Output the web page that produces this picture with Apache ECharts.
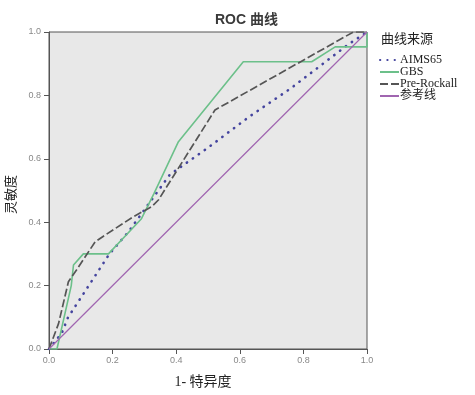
<!DOCTYPE html>
<html><head><meta charset="utf-8">
<script src="https://cdn.jsdelivr.net/npm/echarts@6/dist/echarts.min.js"></script>
<style>html,body{margin:0;padding:0;background:#fff}#c{width:475px;height:395px}</style>
</head><body><div id="c"></div>
<script>
var seriesNames = ['AIMS65', 'GBS', 'Pre-Rockall', '参考线'];
var aims65 = [[0,0],[0.02,0.025],[0.04,0.05],[0.06,0.1],[0.19,0.3],[0.25,0.37],[0.38,0.55],[0.5,0.635],[0.63,0.733],[0.76,0.822],[0.94,0.96],[1,1]];
var gbs = [[0,0],[0.025,0],[0.07,0.2],[0.077,0.265],[0.108,0.3],[0.187,0.3],[0.29,0.41],[0.33,0.49],[0.407,0.654],[0.611,0.906],[0.826,0.906],[0.9,0.953],[1,0.953],[1,1]];
var preRockall = [[0,0],[0.03,0.08],[0.061,0.212],[0.087,0.25],[0.145,0.338],[0.17,0.355],[0.265,0.417],[0.323,0.449],[0.344,0.47],[0.522,0.754],[0.957,1],[1,1]];
var refLine = [[0,0],[1,1]];
var ticks = [0, 0.2, 0.4, 0.6, 0.8, 1.0];
var colors = ['#44449e', '#6cc08a', '#555555', '#a065b0'];

var chart = echarts.init(document.getElementById('c'));
var axisCommon = {
  type: 'value', min: 0, max: 1, interval: 0.2,
  axisLine: {show: true, lineStyle: {color: '#555', width: 1}},
  axisTick: {show: true, length: 5, lineStyle: {color: '#555'}},
  splitLine: {show: false},
  axisLabel: {fontSize: 9, color: '#888', fontFamily: 'Arial, Liberation Sans', formatter: function(v){return v.toFixed(1);}}
};
chart.setOption({
  animation: false,
  backgroundColor: '#fff',
  title: [
    {text: 'ROC 曲线', left: 215, top: 13, padding: 0, textStyle: {fontSize: 14, fontWeight: 'bold', color: '#3a3a3a', fontFamily: 'Liberation Sans, Noto Sans CJK SC'}},
    {text: '曲线来源', left: 381, top: 32, padding: 0, textStyle: {fontSize: 13, fontWeight: 'normal', color: '#222', fontFamily: 'Noto Sans CJK SC'}}
  ],
  legend: {
    orient: 'vertical', left: 379, top: 54, padding: 0, itemGap: 0, itemWidth: 19, itemHeight: 10,
    data: seriesNames,
    itemStyle: {opacity: 0},
    textStyle: {fontSize: 12, lineHeight: 11.3, color: '#222', fontFamily: 'Liberation Serif, Noto Sans CJK SC', padding: [0,0,0,-4]}
  },
  grid: {left: 49, right: 108, top: 32, bottom: 46, outerBoundsMode: 'none', containLabel: false, show: true, backgroundColor: '#e8e8e8', borderColor: '#555', borderWidth: 1},
  xAxis: Object.assign({}, axisCommon, {
    axisLabel: Object.assign({}, axisCommon.axisLabel, {margin: 7}),
    name: '1- 特异度', nameLocation: 'middle', nameGap: 26,
    nameTextStyle: {fontSize: 14, color: '#222', fontFamily: 'Liberation Serif, Noto Sans CJK SC', padding: [0, 10, 0, 0]}}),
  yAxis: Object.assign({}, axisCommon, {
    axisLabel: Object.assign({}, axisCommon.axisLabel, {margin: 8}),
    name: '灵敏度', nameLocation: 'middle', nameGap: 32,
    nameTextStyle: {fontSize: 13, color: '#222', fontFamily: 'Noto Sans CJK SC', padding: [0, 0, 0, -8]}}),
  series: [
    {name: seriesNames[0], type: 'line', data: aims65, symbol: 'none', lineStyle: {color: colors[0], width: 2.6, type: [0.3, 7], cap: 'round'}, itemStyle: {color: colors[0]}},
    {name: seriesNames[1], type: 'line', data: gbs, symbol: 'none', lineStyle: {color: colors[1], width: 1.6}, itemStyle: {color: colors[1]}},
    {name: seriesNames[2], type: 'line', data: preRockall, symbol: 'none', lineStyle: {color: colors[2], width: 1.7, type: [8, 3]}, itemStyle: {color: colors[2]}},
    {name: seriesNames[3], type: 'line', data: refLine, symbol: 'none', lineStyle: {color: colors[3], width: 1.2}, itemStyle: {color: colors[3]}}
  ]
});
</script></body></html>
